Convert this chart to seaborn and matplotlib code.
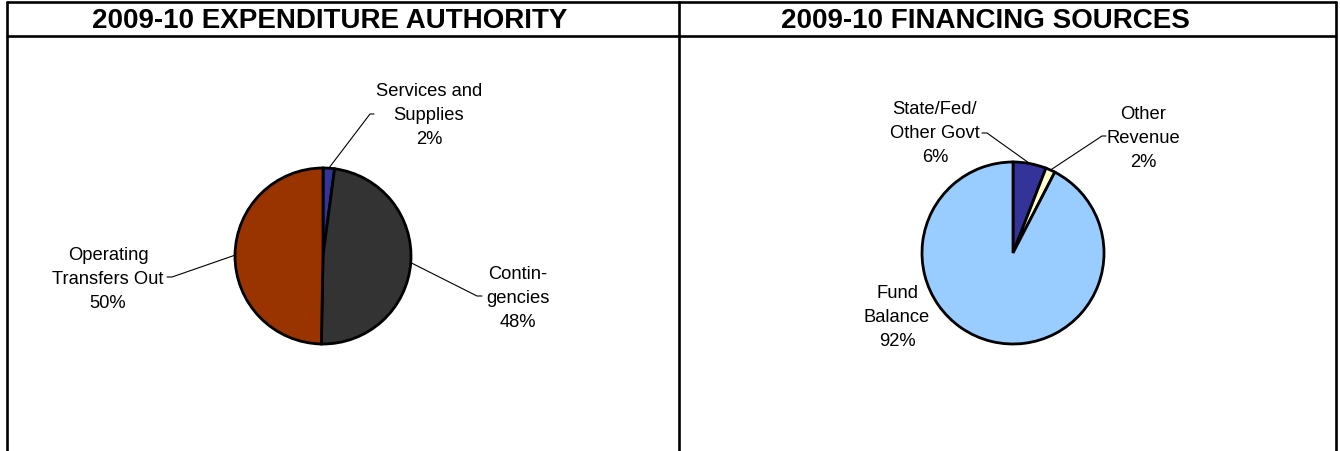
import numpy as np
import seaborn as sns
import matplotlib.pyplot as plt

# data
exp_title = "2009-10 EXPENDITURE AUTHORITY"
exp_labels = ["Services and\nSupplies", "Contin-\ngencies", "Operating\nTransfers Out"]
exp_values = [2.1, 48.2, 49.7]
exp_colors = ["#333399", "#333333", "#993300"]

fin_title = "2009-10 FINANCING SOURCES"
fin_labels = ["State/Fed/\nOther Govt", "Other\nRevenue", "Fund\nBalance"]
fin_values = [5.9, 1.7, 92.4]
fin_colors = ["#333399", "#FFFFCC", "#99CCFF"]

sns.set_theme(style="white")
plt.rcParams['font.family'] = ['Liberation Sans', 'DejaVu Sans']

W, H = 1340, 452
fig = plt.figure(figsize=(W / 100, H / 100), dpi=100)
ax = fig.add_axes([0, 0, 1, 1])


def py(y):
    # pixel row -> data y
    return H - y


def draw_pie(values, labels, colors, center, radius, layout):
    wedges, _ = ax.pie(values, colors=sns.color_palette(colors), startangle=90,
                       counterclock=False, center=(center[0], py(center[1])),
                       radius=radius, frame=True,
                       wedgeprops=dict(edgecolor='black', linewidth=2.0))
    total = sum(values)
    for w, lab, v, lay in zip(wedges, labels, values, layout):
        lines = lab.split("\n") + [f"{v / total * 100:.0f}%"]
        tx, ty = lay['text']
        n = len(lines)
        for i, line in enumerate(lines):
            ax.text(tx, py(ty + 1.5 + (i - (n - 1) / 2) * 24), line, ha='center',
                    va='center', fontsize=13.2, color='black')
        if lay.get('elbow') is None:
            continue
        ang = np.deg2rad((w.theta1 + w.theta2) / 2)
        x0 = w.center[0] + w.r * np.cos(ang)
        y0 = w.center[1] + w.r * np.sin(ang)
        (ex, ey), (sx, sy) = lay['elbow'], lay['stub']
        ax.plot([x0, ex, sx], [y0, py(ey), py(sy)], color='black', lw=0.8)


exp_layout = [
    dict(text=(429, 114), elbow=(370, 115), stub=(374, 115)),
    dict(text=(518, 297), elbow=(477, 297), stub=(482, 297)),
    dict(text=(108, 278), elbow=(172, 278), stub=(167, 278)),
]
fin_layout = [
    dict(text=(935, 132), elbow=(987, 134), stub=(982, 134)),
    dict(text=(1143, 137), elbow=(1102, 137), stub=(1106, 137)),
    dict(text=(897, 316)),
]

draw_pie(exp_values, exp_labels, exp_colors, (323, 257), 88, exp_layout)
draw_pie(fin_values, fin_labels, fin_colors, (1013, 254), 91, fin_layout)

# table-like frame
for x in [7, 679, 1336]:
    ax.plot([x, x], [py(3), py(H + 5)], color='black', lw=1.9)
for y in [3, 37]:
    ax.plot([7, 1336], [py(y), py(y)], color='black', lw=1.9)

ax.text(330, py(21), exp_title, ha='center', va='center', fontsize=20,
        fontweight='bold', color='black')
ax.text(985, py(21), fin_title, ha='center', va='center', fontsize=20,
        fontweight='bold', color='black')

ax.set_xlim(0, W)
ax.set_ylim(0, H)
ax.set_aspect('equal')
ax.axis('off')

plt.savefig('out.png', dpi=100, facecolor='white')
